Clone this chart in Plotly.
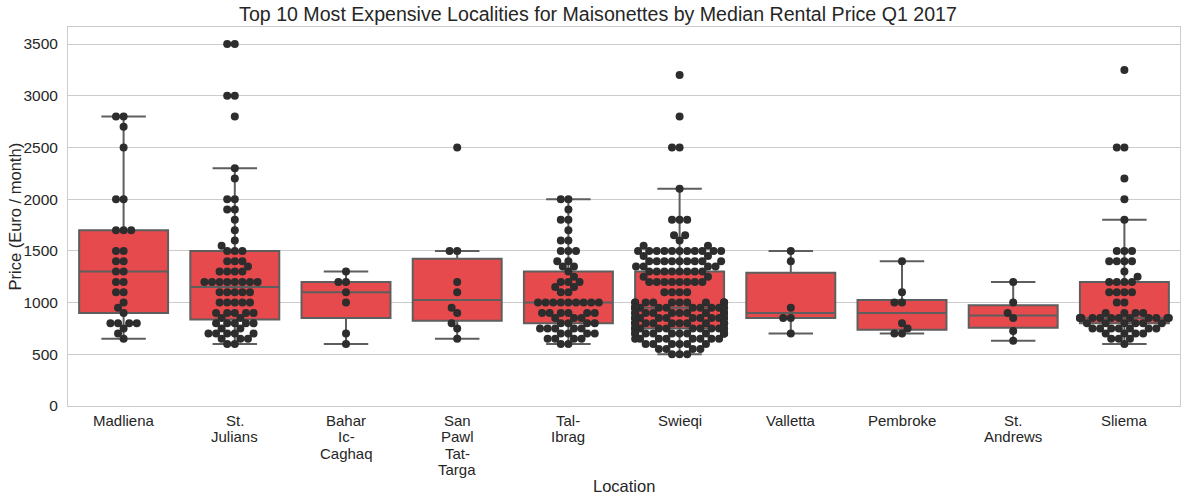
import numpy as np
import plotly.graph_objects as go

# ---------------- data ----------------
locations = ["Madliena", "St.<br>Julians", "Bahar<br>Ic-<br>Caghaq", "San<br>Pawl<br>Tat-<br>Targa",
             "Tal-<br>Ibrag", "Swieqi", "Valletta", "Pembroke", "St.<br>Andrews", "Sliema"]

def rep(pairs):
    out = []
    for v, c in pairs:
        out += [v] * c
    return out

madliena = rep([(2800, 2), (2700, 1), (2500, 1), (2000, 2), (1700, 3), (1500, 2), (1400, 2), (1300, 2),
                (1200, 2), (1100, 2), (1000, 1), (950, 1), (900, 1), (800, 4), (750, 1), (700, 1), (650, 1)])
st_julians = rep([(3500, 2), (3000, 2), (2800, 1), (2300, 1), (2200, 1), (2000, 2), (1900, 2), (1800, 1),
                  (1700, 1), (1600, 1), (1550, 1), (1500, 3), (1400, 3), (1350, 1), (1300, 4), (1200, 8),
                  (1100, 5), (1000, 5), (900, 5), (850, 2), (800, 5), (750, 2), (700, 5), (650, 3), (600, 2)])
bahar_ic_caghaq = [1300, 1200, 1200, 1100, 1000, 700, 600]
san_pawl = [2500, 1500, 1500, 1200, 1100, 950, 900, 800, 750, 650]
tal_ibrag = rep([(2000, 2), (1900, 1), (1800, 2), (1700, 1), (1600, 2), (1500, 3), (1400, 2), (1350, 2),
                 (1300, 1), (1250, 1), (1200, 3), (1150, 2), (1100, 2), (1000, 9), (900, 6), (850, 3),
                 (800, 4), (750, 5), (700, 4), (650, 4), (600, 2)])
swieqi = rep([(3200, 1), (2800, 1), (2500, 2), (2100, 1), (1800, 3), (1650, 2), (1600, 1), (1550, 2),
              (1500, 11), (1450, 2), (1400, 9), (1350, 4), (1300, 8), (1250, 2), (1200, 8), (1100, 4),
              (1000, 12), (950, 13), (900, 11), (850, 12), (800, 12), (750, 12), (700, 11), (650, 8),
              (600, 6), (550, 4), (500, 3)])
valletta = [1500, 1400, 950, 850, 850, 700]
pembroke = [1400, 1100, 1000, 1000, 800, 750, 700, 700]
st_andrews = [1200, 1000, 900, 850, 725, 630]
sliema = rep([(3250, 1), (2500, 2), (2200, 1), (2000, 1), (1800, 1), (1500, 3), (1400, 4), (1300, 1),
              (1250, 1), (1200, 4), (1100, 4), (1000, 2), (900, 4), (850, 12), (800, 6), (750, 7),
              (700, 4), (650, 3), (600, 1)])

series = [madliena, st_julians, bahar_ic_caghaq, san_pawl, tal_ibrag, swieqi, valletta, pembroke,
          st_andrews, sliema]

yticks = [0, 500, 1000, 1500, 2000, 2500, 3000, 3500]

# ---------------- styling / geometry ----------------
Y_MAX = 3665
PLOT_H = 379.0       # px height of plot area
PLOT_W = 1112.0      # px width of plot area
PX_PER_Y = PLOT_H / Y_MAX
PX_PER_CAT = PLOT_W / len(locations)
DOT = 7.6            # swarm dot diameter (px)
HALF_W = 0.4         # swarm half width (category units)

TEXT = "#262626"
BOX_FILL = "#e64a4c"
BOX_LINE = "#5e5e5e"
DOT_COLOR = "#2d2d2d"
GRID = "#cccccc"


def swarm_offsets(vals):
    """Beeswarm layout in pixel space (like seaborn's swarmplot)."""
    ys = np.asarray(vals, dtype=float) * PX_PER_Y
    order = np.argsort(ys, kind="stable")
    placed = []
    xs = np.zeros(len(ys))
    for i in order:
        y = ys[i]
        neigh = [(px, py) for px, py in placed if abs(py - y) < DOT]
        cands = [0.0]
        for px, py in neigh:
            dx = np.sqrt(max(DOT * DOT - (y - py) ** 2, 0.0))
            cands += [px - dx, px + dx]
        cands = sorted(cands, key=lambda c: abs(c))
        chosen = cands[-1]
        for c in cands:
            if all((c - px) ** 2 + (y - py) ** 2 >= DOT * DOT - 1e-6 for px, py in neigh):
                chosen = c
                break
        placed.append((chosen, y))
        xs[i] = chosen
    hw = HALF_W * PX_PER_CAT
    xs = np.clip(xs, -hw, hw)
    return xs / PX_PER_CAT


fig = go.Figure()

# boxes (numpy-style quartiles, whiskers to furthest point within 1.5 IQR)
q1s, meds, q3s, lows, highs = [], [], [], [], []
for vals in series:
    a = np.asarray(vals, dtype=float)
    q1, med, q3 = np.percentile(a, [25, 50, 75])
    iqr = q3 - q1
    lo = a[a >= q1 - 1.5 * iqr].min()
    hi = a[a <= q3 + 1.5 * iqr].max()
    q1s.append(q1); meds.append(med); q3s.append(q3); lows.append(lo); highs.append(hi)

fig.add_trace(go.Box(
    x=list(range(len(locations))), q1=q1s, median=meds, q3=q3s, lowerfence=lows, upperfence=highs,
    width=0.8, whiskerwidth=0.5, fillcolor=BOX_FILL,
    line=dict(color=BOX_LINE, width=2), boxpoints=False, showlegend=False, hoverinfo="skip",
))

# swarm points
xs_all, ys_all = [], []
for i, vals in enumerate(series):
    offs = swarm_offsets(vals)
    xs_all += list(i + offs)
    ys_all += list(vals)

fig.add_trace(go.Scatter(
    x=xs_all, y=ys_all, mode="markers",
    marker=dict(color=DOT_COLOR, size=8, line=dict(width=0)),
    showlegend=False, hoverinfo="y",
))

# category labels (matplotlib-like tight line spacing)
LINE_H = 16.5
annotations = []
for i, lab in enumerate(locations):
    for j, part in enumerate(lab.split("<br>")):
        annotations.append(dict(
            text=part, x=i, xref="x", y=0, yref="paper", xanchor="center", yanchor="middle",
            yshift=-(14 + j * LINE_H), showarrow=False, font=dict(size=15, color=TEXT),
        ))
annotations.append(dict(text="Location", x=0.5, xref="paper", y=0, yref="paper",
                        xanchor="center", yanchor="middle", yshift=-80, showarrow=False,
                        font=dict(size=16.5, color=TEXT)))
annotations.append(dict(text="Price (Euro / month)", x=(14 - 68) / PLOT_W, xref="paper", y=0.5,
                        yref="paper", xanchor="center", yanchor="middle", textangle=-90,
                        showarrow=False, font=dict(size=16.5, color=TEXT)))

fig.update_layout(
    width=1190, height=502,
    margin=dict(l=68, r=10, t=27, b=96, autoexpand=False),
    paper_bgcolor="white", plot_bgcolor="white",
    font=dict(family="Liberation Sans, Arial, sans-serif", color=TEXT, size=15),
    title=dict(text="Top 10 Most Expensive Localities for Maisonettes by Median Rental Price Q1 2017",
               x=0.5025, xanchor="center", y=0.972, yanchor="middle", yref="container",
               font=dict(size=19.6, color=TEXT)),
    annotations=annotations,
)
fig.update_xaxes(
    range=[-0.5, len(locations) - 0.5], tickmode="array", tickvals=list(range(len(locations))),
    showticklabels=False, showgrid=False, zeroline=False, automargin=False,
    showline=True, mirror=True, linecolor=GRID, linewidth=1, ticks="",
)
fig.update_yaxes(
    range=[0, Y_MAX], tickmode="array", tickvals=yticks, ticktext=[str(t) for t in yticks],
    showgrid=True, gridcolor=GRID, gridwidth=1, zeroline=False, automargin=False,
    showline=True, mirror=True, linecolor=GRID, linewidth=1,
    ticks="outside", ticklen=6, tickcolor="rgba(0,0,0,0)",
    tickfont=dict(size=15.5, color=TEXT),
)

fig.write_html("out.html", config={"displayModeBar": False},
               post_script="document.body.style.margin='0';")
